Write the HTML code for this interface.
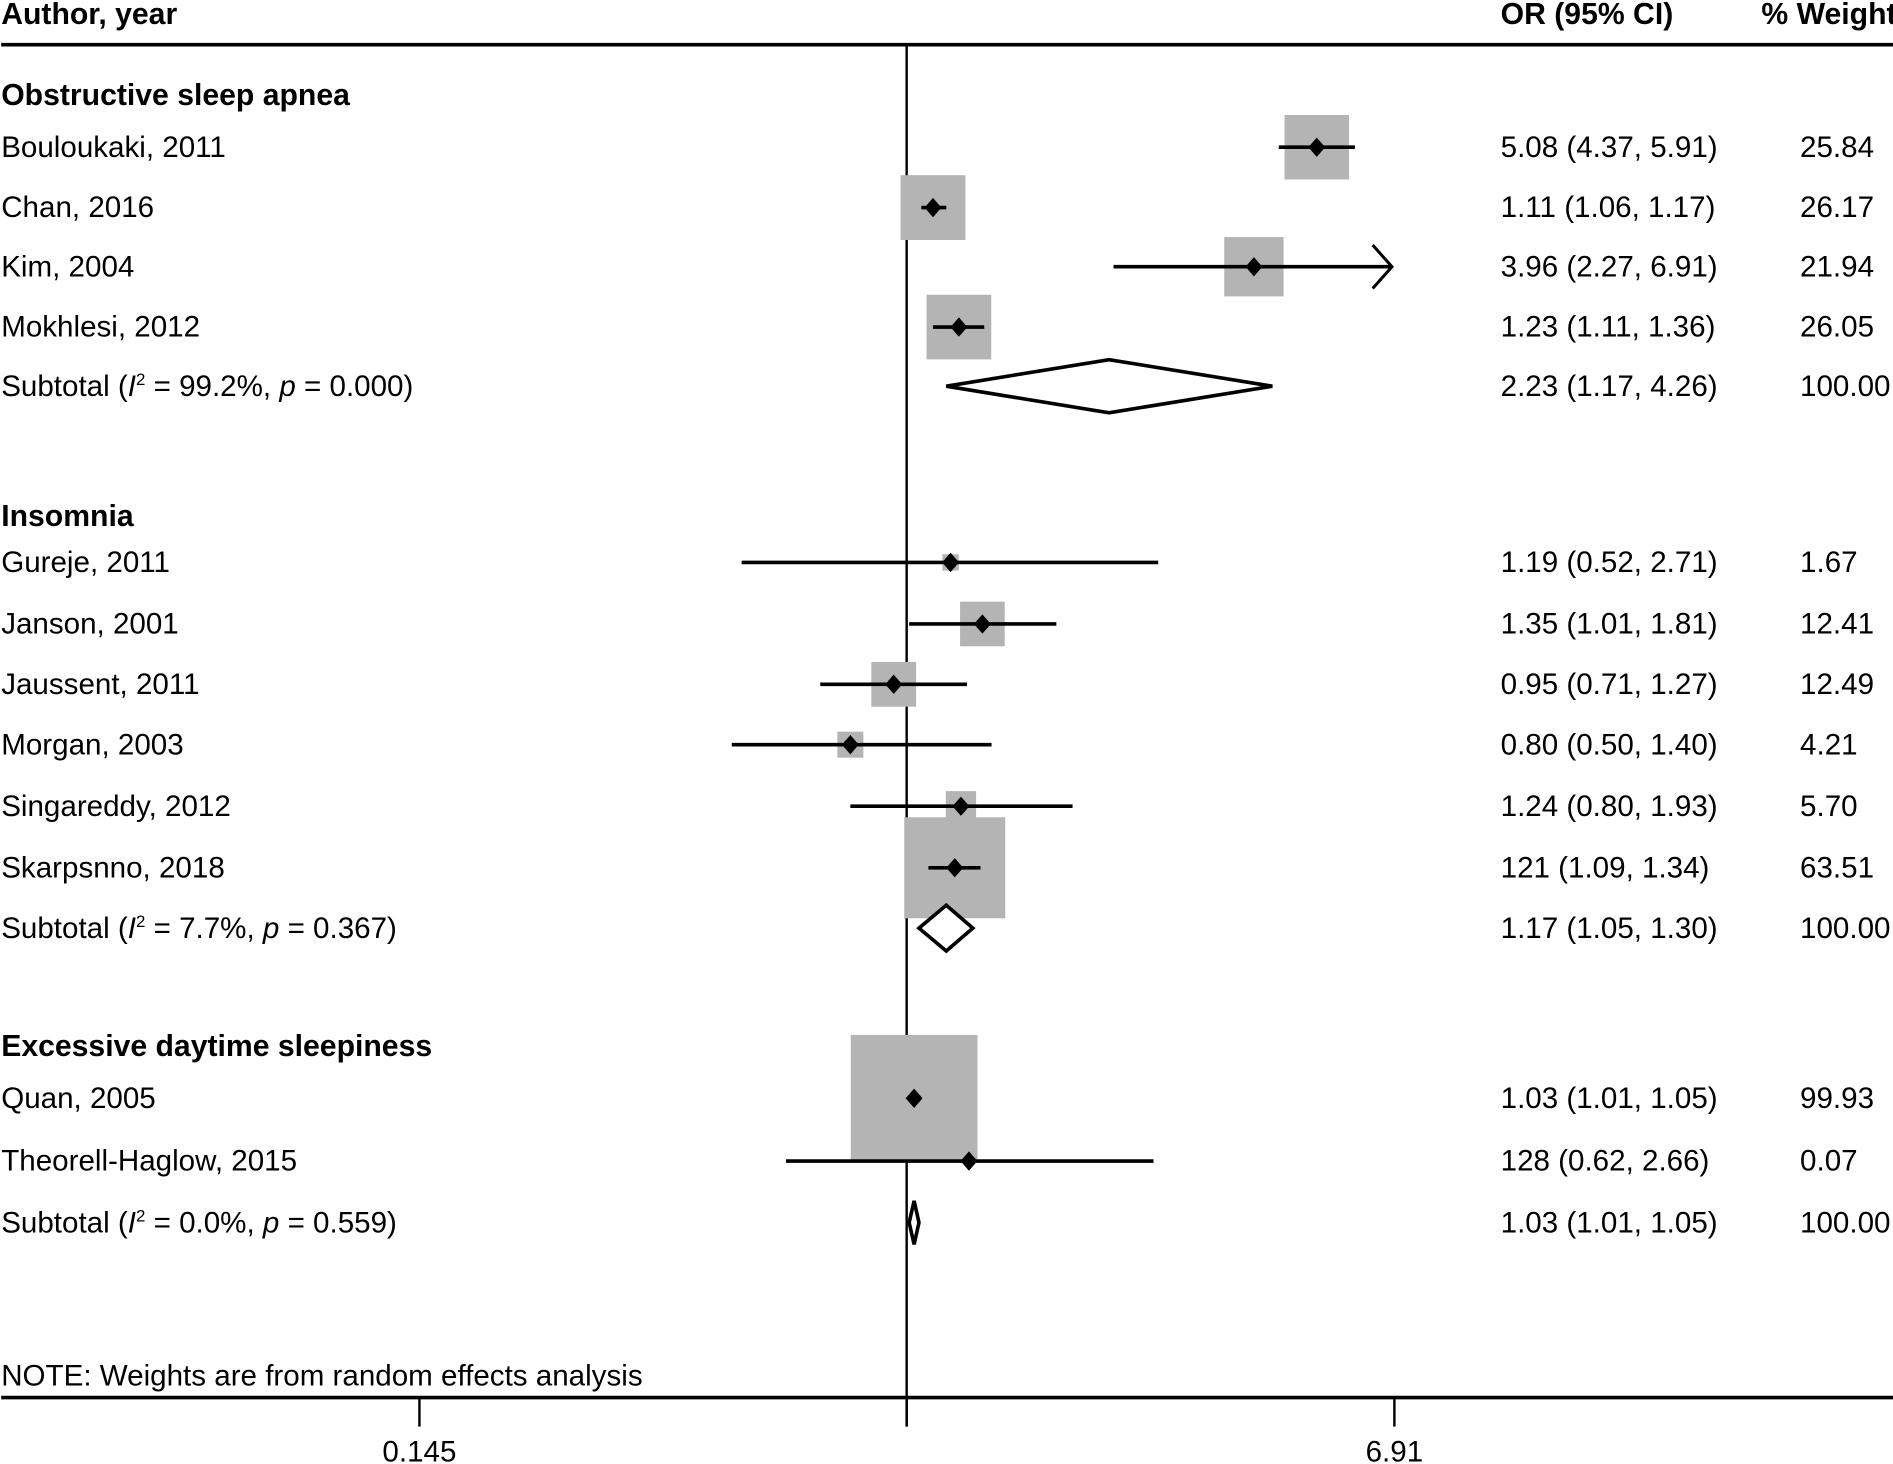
<!DOCTYPE html>
<html><head><meta charset="utf-8"><style>
html,body{margin:0;padding:0;background:#fff;}
svg{display:block;font-family:"Liberation Sans",sans-serif;}
text{font-size:24.5px;fill:#000;}
.b{font-weight:bold;font-size:25px;}
</style></head><body>
<svg id="chart" width="1893" height="1464" viewBox="0 0 1568 1213" preserveAspectRatio="none" xmlns="http://www.w3.org/2000/svg">
<text class="b" x="1" y="20">Author, year</text>
<text class="b" x="1243" y="20">OR (95% CI)</text>
<text class="b" x="1459" y="20">% Weight</text>
<line x1="1" y1="37" x2="1568" y2="37" stroke="#000" stroke-width="3"/>
<line x1="751" y1="37" x2="751" y2="1182" stroke="#000" stroke-width="2"/>
<line x1="1" y1="1158" x2="1568" y2="1158" stroke="#000" stroke-width="3"/>
<text x="1" y="1148">NOTE: Weights are from random effects analysis</text>
<g id="marks"></g>
</svg>
<script>
const groups = ["Obstructive sleep apnea","Insomnia","Excessive daytime sleepiness"];
const groupY = [79, 428, 867];
const labels = ["Bouloukaki, 2011","Chan, 2016","Kim, 2004","Mokhlesi, 2012",
 "Gureje, 2011","Janson, 2001","Jaussent, 2011","Morgan, 2003","Singareddy, 2012","Skarpsnno, 2018",
 "Quan, 2005","Theorell-Haglow, 2015"];
const orVals = [5.08,1.11,3.96,1.23, 1.19,1.35,0.95,0.80,1.24,1.21, 1.03,1.28];
const loVals = [4.37,1.06,2.27,1.11, 0.52,1.01,0.71,0.50,0.80,1.09, 1.01,0.62];
const hiVals = [5.91,1.17,6.91,1.36, 2.71,1.81,1.27,1.40,1.93,1.34, 1.05,2.66];
const weights = [25.84,26.17,21.94,26.05, 1.67,12.41,12.49,4.21,5.70,63.51, 99.93,0.07];
const orTexts = ["5.08 (4.37, 5.91)","1.11 (1.06, 1.17)","3.96 (2.27, 6.91)","1.23 (1.11, 1.36)",
 "1.19 (0.52, 2.71)","1.35 (1.01, 1.81)","0.95 (0.71, 1.27)","0.80 (0.50, 1.40)","1.24 (0.80, 1.93)","121 (1.09, 1.34)",
 "1.03 (1.01, 1.05)","128 (0.62, 2.66)"];
const weightTexts = ["25.84","26.17","21.94","26.05","1.67","12.41","12.49","4.21","5.70","63.51","99.93","0.07"];
const rowY = [122,172,221,271, 466,517,567,617,668,719, 910,962];
const subI2 = ["99.2%","7.7%","0.0%"];
const subP = ["0.000","0.367","0.559"];
const subOr = [2.23,1.17,1.03];
const subLo = [1.17,1.05,1.01];
const subHi = [4.26,1.30,1.05];
const subTexts = ["2.23 (1.17, 4.26)","1.17 (1.05, 1.30)","1.03 (1.01, 1.05)"];
const subY = [320,769,1013];
const subH = [22,19,18];
const tickVals = [0.145, 1, 6.91];
const tickLabels = ["0.145","","6.91"];
const xMax = 6.91;

const NS="http://www.w3.org/2000/svg";
const g=document.getElementById('marks');
function X(v){return 751 + 209*Math.log(v);}
function mk(tag,attrs,parent){const e=document.createElementNS(NS,tag);for(const k in attrs)e.setAttribute(k,attrs[k]);(parent||g).appendChild(e);return e;}
function txt(x,y,s,cls){const t=mk('text',{x:x,y:y});if(cls)t.setAttribute('class',cls);t.textContent=s;return t;}

groups.forEach((name,i)=>{
  const t=txt(1,groupY[i]+8,name,'b');
  
  
});
labels.forEach((lab,i)=>{
  const y=rowY[i];
  const s=10.5*Math.sqrt(weights[i]);
  const box=mk('rect',{x:X(orVals[i])-s/2,y:y-s/2,width:s,height:s,fill:'#b4b4b4'});
  
  
  const hi=Math.min(hiVals[i],xMax);
  const ci=mk('line',{x1:X(loVals[i]),y1:y,x2:X(hi)-(hiVals[i]>=xMax?2:0),y2:y,stroke:'#000','stroke-width':3});
  
  
  if(hiVals[i]>=xMax){
    const ax=X(hi)-2;
    const ar=mk('path',{d:`M${ax-16},${y-18} L${ax},${y} L${ax-16},${y+18}`,fill:'none',stroke:'#000','stroke-width':2.5});
    
    
  }
  const cx=X(orVals[i]);
  const pt=mk('path',{d:`M${cx},${y-8} L${cx+7},${y} L${cx},${y+8} L${cx-7},${y} Z`,fill:'#000'});
  
  
  const l=txt(1,y+8,lab);
  
  
  const o=txt(1243,y+8,orTexts[i]);
  
  
  const w=txt(1491,y+8,weightTexts[i]);
  
  
});
subOr.forEach((v,i)=>{
  const y=subY[i],h=subH[i];
  const d=mk('path',{d:`M${X(subLo[i])},${y} L${X(v)},${y-h} L${X(subHi[i])},${y} L${X(v)},${y+h} Z`,fill:'#fff',stroke:'#000','stroke-width':3});
  
  
  const t=mk('text',{x:1,y:y+8});
  
  
  t.innerHTML=`Subtotal (<tspan font-style="italic">I</tspan><tspan dy="-9" font-size="14">2</tspan><tspan dy="9"> = ${subI2[i]}, </tspan><tspan font-style="italic">p</tspan> = ${subP[i]})`;
  const o=txt(1243,y+8,subTexts[i]);
  
  
  const w=txt(1491,y+8,"100.00");
  
  
});
tickVals.forEach((v,i)=>{
  const tk=mk('line',{x1:X(v),y1:1158,x2:X(v),y2:1182,stroke:'#000','stroke-width':2});
  
  
  if(tickLabels[i]){
    const t=txt(X(v),1211,tickLabels[i]);
    t.setAttribute('text-anchor','middle');
    
    
  }
});
</script>
</body></html>
